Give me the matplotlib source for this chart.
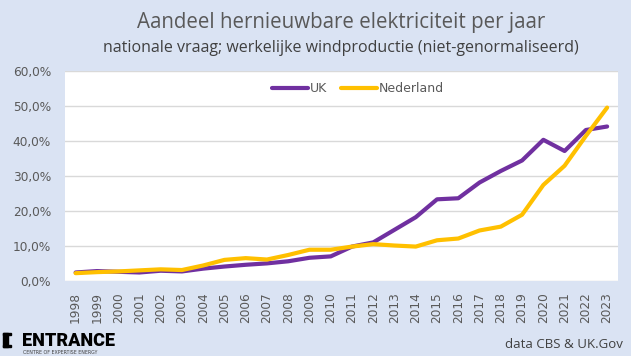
import matplotlib.pyplot as plt
from matplotlib.ticker import FuncFormatter
from matplotlib.patches import Rectangle

years = list(range(1998, 2024))
uk = [2.4, 2.8, 2.6, 2.4, 2.9, 2.7, 3.5, 4.1, 4.6, 5.0, 5.6, 6.6, 7.0,
      9.8, 11.0, 14.6, 18.2, 23.3, 23.6, 28.1, 31.4, 34.4, 40.3, 37.1, 43.1, 44.1]
nl = [2.2, 2.5, 2.7, 3.0, 3.3, 3.1, 4.4, 6.0, 6.5, 6.1, 7.4, 8.9, 8.9,
      9.8, 10.5, 10.1, 9.8, 11.6, 12.1, 14.4, 15.5, 18.9, 27.4, 32.9, 41.4, 49.5]

bg = '#DAE3F3'
fig = plt.figure(figsize=(6.31, 3.56), dpi=100, facecolor=bg)
ax = fig.add_axes([0.103, 0.211, 0.876, 0.590])
ax.set_facecolor('white')

x = list(range(len(years)))
ax.plot(x, uk, color='#7030A0', linewidth=3, label='UK', solid_capstyle='round')
ax.plot(x, nl, color='#FFC000', linewidth=3, label='Nederland', solid_capstyle='round')

ax.set_ylim(0, 60)
ax.set_yticks(range(0, 61, 10))
ax.yaxis.set_major_formatter(FuncFormatter(lambda v, p: f'{v:.1f}%'.replace('.', ',')))
ax.set_xlim(-0.5, len(years) - 0.5)
ax.set_xticks(x)
ax.set_xticklabels([str(y) for y in years], rotation=90)
ax.grid(axis='y', color='#D9D9D9', linewidth=1)
ax.set_axisbelow(True)
for s in ax.spines.values():
    s.set_visible(False)
ax.tick_params(axis='both', length=0, colors='#595959', labelsize=8.7)
ax.tick_params(axis='y', pad=10)
ax.tick_params(axis='x', pad=8)

leg = ax.legend(loc='upper center', bbox_to_anchor=(0.53, 1.0), ncol=2, frameon=False,
                fontsize=9, handlelength=2.9, handletextpad=0.15, columnspacing=1.1)
for t in leg.get_texts():
    t.set_color('#595959')

fig.text(0.54, 0.937, 'Aandeel hernieuwbare elektriciteit per jaar', ha='center', va='center',
         fontsize=14.8, color='#595959', family='Open Sans')
fig.text(0.54, 0.865, 'nationale vraag; werkelijke windproductie (niet-genormaliseerd)', ha='center',
         va='center', fontsize=11.5, color='#404040', family='Open Sans')

# logo
fig.patches.append(Rectangle((0.005, 0.025), 0.007, 0.040, transform=fig.transFigure,
                             color='black'))
fig.patches.append(Rectangle((0.005, 0.059), 0.012, 0.006, transform=fig.transFigure,
                             color='black'))
fig.patches.append(Rectangle((0.005, 0.025), 0.012, 0.006, transform=fig.transFigure,
                             color='black'))
fig.text(0.035, 0.028, 'ENTRANCE', fontsize=13, fontweight='black', color='black',
         family='Roboto', va='baseline')
fig.text(0.037, 0.006, 'CENTRE OF EXPERTISE ENERGY', fontsize=3.4, color='#404040',
         family='DejaVu Sans', va='baseline')

fig.text(0.987, 0.022, 'data CBS & UK.Gov', ha='right', va='baseline', fontsize=9.5,
         color='#404040', family='Open Sans')

fig.savefig('out.png', dpi=100, facecolor=bg)
